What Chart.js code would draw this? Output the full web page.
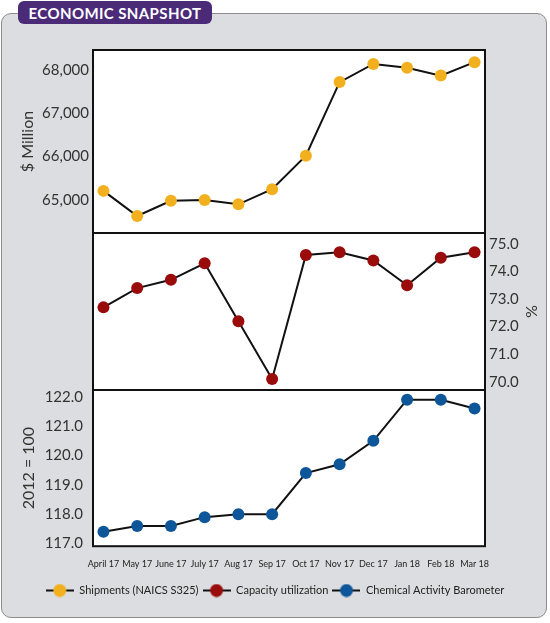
<!DOCTYPE html>
<html>
<head>
<meta charset="utf-8">
<script src="https://cdn.jsdelivr.net/npm/chart.js@4.4.0/dist/chart.umd.min.js"></script>
<style>
  body { margin:0; width:550px; height:623px; background:#fff; position:relative; overflow:hidden; font-family:Lato, sans-serif; }
  #frame { position:absolute; left:1px; top:13px; width:544px; height:603px; background:#dcdde0; border:1px solid #8c8c8c; border-radius:10px; }
  #tab { position:absolute; left:18px; top:1px; width:194px; height:23px; background:#4b2a78; border-radius:6px; color:#fff; font:bold 15px Lato, sans-serif; display:flex; align-items:center; justify-content:center; letter-spacing:0.4px; }
  canvas { position:absolute; left:0; }
</style>
</head>
<body>
<div id="frame"></div>
<div id="tab">ECONOMIC SNAPSHOT</div>
<canvas id="shipChart" width="550" height="200" style="top:40px"></canvas>
<canvas id="capChart" width="550" height="180" style="top:220px"></canvas>
<canvas id="cabChart" width="550" height="243" style="top:380px"></canvas>
<script>
const months = ['April 17', 'May 17', 'June 17', 'July 17', 'Aug 17', 'Sep 17', 'Oct 17', 'Nov 17', 'Dec 17', 'Jan 18', 'Feb 18', 'Mar 18'];
const shipments = [65210, 64630, 64980, 65000, 64900, 65250, 66020, 67720, 68140, 68050, 67870, 68180];
const capacity = [72.7, 73.4, 73.7, 74.3, 72.2, 70.1, 74.6, 74.7, 74.4, 73.5, 74.5, 74.7];
const barometer = [117.4, 117.6, 117.6, 117.9, 118.0, 118.0, 119.4, 119.7, 120.5, 121.9, 121.9, 121.6];
const shipTicks = [65000, 66000, 67000, 68000];
const capTicks = [70, 71, 72, 73, 74, 75];
const cabTicks = [117, 118, 119, 120, 121, 122];
const seriesNames = ['Shipments (NAICS S325)', 'Capacity utilization', 'Chemical Activity Barometer'];
const seriesColors = ['#f2b01e', '#9a0b0b', '#0d5699'];

// white plot area + black box around it
const panelBox = {
    id: 'panelBox',
    beforeDraw(chart) {
        const {ctx, chartArea: a} = chart;
        ctx.save();
        ctx.fillStyle = '#fff';
        ctx.fillRect(a.left, a.top, a.width, a.height);
        ctx.restore();
    },
    beforeDatasetsDraw(chart) {
        const {ctx, chartArea: a} = chart;
        ctx.save();
        ctx.strokeStyle = '#111';
        ctx.lineWidth = 2;
        ctx.strokeRect(a.left, a.top, a.width, a.height);
        ctx.restore();
    }
};

const pts = vals => vals.map((v, i) => ({x: i, y: v}));

noPad = s => { s.paddingTop = 0; s.paddingBottom = 0; s.paddingLeft = 0; s.paddingRight = 0; };

xAxis = (show) => ({
    type: 'linear', min: -0.31, max: 11.31, display: show,
    grid: {display: false, drawTicks: false}, border: {display: false},
    afterBuildTicks: s => { s.ticks = months.map((m, i) => ({value: i})); },
    afterFit: s => { noPad(s); },
    ticks: {callback: v => months[v], color: '#222', font: {family: 'Lato', size: 9}, padding: 12, maxRotation: 0, autoSkip: false}
});

yAxis = (pos, min, max, tickVals, fmt, title, tickPad, titlePad) => ({
    position: pos, min: min, max: max,
    grid: {display: false, drawTicks: false}, border: {display: false},
    afterBuildTicks: s => { s.ticks = tickVals.map(v => ({value: v})); },
    afterFit: s => { noPad(s); s.width = pos == 'left' ? 93 : 65; },
    ticks: {callback: fmt, color: '#333', font: {family: 'Lato', size: 15}, padding: tickPad},
    title: {display: true, text: title, color: '#333', font: {family: 'Lato', size: 16}, padding: {top: titlePad, bottom: 0}}
});

// empty axis that only keeps the right margin free
spacer = () => ({
    position: 'right', display: true,
    grid: {display: false, drawTicks: false}, border: {display: false},
    ticks: {display: false},
    afterFit: s => { noPad(s); s.width = 65; }
});

dataset = (vals, k) => ({
    label: seriesNames[k], data: pts(vals),
    borderColor: '#111', borderWidth: 2,
    pointBackgroundColor: seriesColors[k], pointBorderWidth: 0, pointRadius: 6,
    clip: false
});

markerFor = (color) => {
    const c = document.createElement('canvas');
    c.width = 28; c.height = 14;
    const g = c.getContext('2d');
    g.strokeStyle = '#111'; g.lineWidth = 2;
    g.beginPath(); g.moveTo(0, 7); g.lineTo(28, 7); g.stroke();
    g.fillStyle = color;
    g.beginPath(); g.arc(14, 7, 6.5, 0, Math.PI * 2); g.fill();
    return c;
};

let shipChart = new Chart(document.getElementById('shipChart'), {
    type: 'line',
    data: {datasets: [dataset(shipments, 0)]},
    options: {
        responsive: false, animation: false,
        layout: {padding: {top: 10, bottom: 7, left: 0, right: 65}},
        scales: {
            x: xAxis(false),
            y: yAxis('left', 64238, 68461, shipTicks, v => v.toLocaleString('en-US'), '$ Million', 4, 18)
        },
        plugins: {legend: {display: false}, tooltip: {enabled: false}}
    },
    plugins: [panelBox]
});

let capChart = new Chart(document.getElementById('capChart'), {
    type: 'line',
    data: {datasets: [dataset(capacity, 1)]},
    options: {
        responsive: false, animation: false,
        layout: {padding: {top: 13, bottom: 10, left: 93, right: 0}},
        scales: {
            x: xAxis(false),
            y: yAxis('right', 69.7, 75.4, capTicks, v => v.toFixed(1), '%', 4, 9)
        },
        plugins: {legend: {display: false}, tooltip: {enabled: false}}
    },
    plugins: [panelBox]
});

let cabChart = new Chart(document.getElementById('cabChart'), {
    type: 'line',
    data: {datasets: [dataset(barometer, 2)]},
    options: {
        responsive: false, animation: false,
        layout: {padding: {top: 10, bottom: 17, left: 0, right: 0}},
        scales: {
            x: xAxis(true),
            y: yAxis('left', 116.91, 122.23, cabTicks, v => v.toFixed(1), '2012 = 100', 10, 19),
            yRight: spacer()
        },
        plugins: {
            tooltip: {enabled: false},
            legend: {
                display: true, position: 'bottom', onClick: null,
                labels: {
                    usePointStyle: true, pointStyleWidth: 28, padding: 4,
                    font: {family: 'Lato', size: 11}, color: '#222',
                    generateLabels: () => seriesNames.map((name, k) => ({
                        text: name, fontColor: '#222', pointStyle: markerFor(seriesColors[k]),
                        fillStyle: seriesColors[k], strokeStyle: '#111', lineWidth: 0, hidden: false, datasetIndex: 0
                    }))
                }
            }
        }
    },
    plugins: [panelBox]
});
</script>
</body>
</html>
